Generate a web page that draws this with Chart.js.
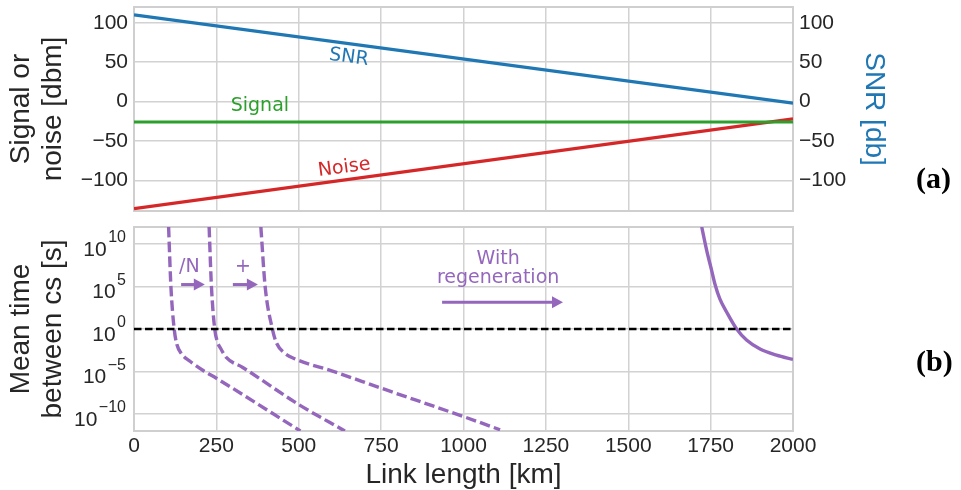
<!DOCTYPE html>
<html><head><meta charset="utf-8">
<script src="https://cdn.jsdelivr.net/npm/chart.js@4.4.0/dist/chart.umd.min.js"></script>
<style>
html,body{margin:0;padding:0;background:#fff;width:961px;height:490px;overflow:hidden;}
#wrapA{position:absolute;left:0;top:0;width:961px;height:220px;}
#wrapB{position:absolute;left:0;top:220px;width:961px;height:270px;}
.panel{position:absolute;font-family:"Liberation Serif",serif;font-weight:bold;font-size:30px;line-height:30px;color:#000;}
</style></head><body>
<div id="wrapA"><canvas id="chartA" width="961" height="220"></canvas></div>
<div id="wrapB"><canvas id="chartB" width="961" height="270"></canvas></div>
<div class="panel" style="left:916px;top:163px;">(a)</div>
<div class="panel" style="left:916px;top:346px;">(b)</div>
<script>
// ---------- data ----------
const xTickValues = [0, 250, 500, 750, 1000, 1250, 1500, 1750, 2000];
const powerTickValues = [-100, -50, 0, 50, 100];
const logTickValues = [1e-10, 1e-5, 1, 1e5, 1e10];

const linkKm = [0, 2000];
const snrDb = [110, -2];
const signalDbm = [-26, -26];
const noiseDbm = [-136, -22];

const thresholdKm = [0, 2000];
const thresholdTime = [1, 1];

const curveAKm = [105, 112, 122, 130, 145, 170, 210, 250, 505];
const curveATime = [1e12, 1e5, 1, 1.6e-2, 1.1e-3, 1.6e-4, 1.3e-5, 1.6e-6, 1e-12];

const curveBKm = [228, 235, 245, 253, 262, 280, 330, 500, 640];
const curveBTime = [1e12, 1e5, 1, 3.2e-2, 6e-3, 4.5e-4, 3e-5, 1.3e-9, 1e-12];

const curveCKm = [385, 398, 420, 432, 455, 490, 600, 750, 1000, 1111];
const curveCTime = [1e12, 1e5, 1, 2.5e-2, 1.7e-3, 2.9e-4, 1.2e-5, 1.1e-7, 5e-11, 1.4e-12];

const regenKm = [1723, 1738, 1753, 1763, 1778, 1799, 1829, 1859, 1900, 1950, 2000];
const regenTime = [1e12, 1.8e9, 8e6, 2e5, 3.5e3, 93, 1, 5e-2, 4.4e-3, 8.5e-4, 2.6e-4];

// ---------- styling ----------
const BLUE = '#1f77b4', GREEN = '#2ca02c', RED = '#d62728', PURPLE = '#9467bd';
const GRID = '#d2d2d2', TEXT = '#262626';
const SANS = "'Liberation Sans', Arial, sans-serif";
const NOTE_FONT = "19px 'DejaVu Sans', sans-serif";
Chart.defaults.font.family = SANS;
Chart.defaults.color = TEXT;

const pts = (xs, ys) => xs.map((x, i) => ({x: x, y: ys[i]}));
const fmtMinus = v => (v < 0 ? '\u2212' + Math.abs(v) : String(v));
const setTicks = vals => (s => { s.ticks = vals.map(v => ({value: v})); });

const framePlugin = {
  id: 'frame',
  beforeDatasetsDraw(chart) {
    const a = chart.chartArea, ctx = chart.ctx;
    ctx.save();
    ctx.strokeStyle = '#cfcfcf';
    ctx.lineWidth = 2;
    ctx.strokeRect(a.left, a.top, a.right - a.left, a.bottom - a.top);
    ctx.restore();
  }
};

const notesPlugin = {
  id: 'notes',
  afterDatasetsDraw(chart, args, opts) {
    const ctx = chart.ctx, xs = chart.scales.x, ys = chart.scales.y;
    (opts.items || []).forEach(n => {
      ctx.save();
      ctx.fillStyle = n.color; ctx.strokeStyle = n.color;
      if (n.text !== undefined) {
        ctx.translate(xs.getPixelForValue(n.x), ys.getPixelForValue(n.y));
        ctx.rotate((n.rot || 0) * Math.PI / 180);
        ctx.font = NOTE_FONT;
        ctx.textAlign = 'center'; ctx.textBaseline = 'middle';
        ctx.fillText(n.text, 0, 0);
      } else {
        const x1 = xs.getPixelForValue(n.x1), x2 = xs.getPixelForValue(n.x2), y = ys.getPixelForValue(n.y);
        const hl = 11, hw = 6;
        ctx.lineWidth = 3;
        ctx.beginPath(); ctx.moveTo(x1, y); ctx.lineTo(x2 - hl + 1, y); ctx.stroke();
        ctx.beginPath(); ctx.moveTo(x2, y); ctx.lineTo(x2 - hl, y - hw); ctx.lineTo(x2 - hl, y + hw); ctx.closePath(); ctx.fill();
      }
      ctx.restore();
    });
  }
};

const logLabelsPlugin = {
  id: 'logLabels',
  afterDraw(chart) {
    const ys = chart.scales.y, ctx = chart.ctx;
    ctx.save();
    ctx.fillStyle = TEXT; ctx.textAlign = 'right'; ctx.textBaseline = 'middle';
    logTickValues.forEach(v => {
      const py = ys.getPixelForValue(v);
      const e = Math.round(Math.log10(v));
      const es = e < 0 ? '\u2212' + (-e) : String(e);
      const right = ys.right - 8;
      ctx.font = '16px ' + SANS;
      const ew = ctx.measureText(es).width;
      ctx.fillText(es, right, py - 6);
      ctx.font = '21px ' + SANS;
      ctx.fillText('10', right - ew - 1.5, py + 6);
    });
    ctx.restore();
  }
};

const gridOpts = {color: GRID, lineWidth: 1.5, drawTicks: false};

// ---------- chart (a) ----------
new Chart(document.getElementById('chartA'), {
  type: 'line',
  data: {
    datasets: [
      {label: 'SNR', data: pts(linkKm, snrDb), yAxisID: 'y2', borderColor: BLUE, borderWidth: 3.2},
      {label: 'Signal', data: pts(linkKm, signalDbm), yAxisID: 'y', borderColor: GREEN, borderWidth: 3.2},
      {label: 'Noise', data: pts(linkKm, noiseDbm), yAxisID: 'y', borderColor: RED, borderWidth: 3.2}
    ]
  },
  options: {
    responsive: false, animation: false, devicePixelRatio: 1,
    layout: {padding: {left: 0, right: 0, top: 7, bottom: 0}},
    elements: {point: {radius: 0}, line: {tension: 0}},
    plugins: {
      legend: {display: false}, tooltip: {enabled: false},
      notes: {items: [
        {text: 'SNR', x: 652, y: 56, color: BLUE, rot: 7.5},
        {text: 'Signal', x: 382, y: -5.5, color: GREEN, rot: 0},
        {text: 'Noise', x: 638, y: -84, color: RED, rot: -7.5}
      ]}
    },
    scales: {
      x: {type: 'linear', min: 0, max: 2000, afterBuildTicks: setTicks(xTickValues),
          ticks: {display: false}, grid: gridOpts, border: {display: false},
          afterFit: s => { s.height = 9; s.paddingLeft = 0; s.paddingRight = 0; }},
      y: {position: 'left', min: -139, max: 120, afterBuildTicks: setTicks(powerTickValues),
          ticks: {padding: 6, font: {size: 21}, color: TEXT, callback: fmtMinus},
          grid: gridOpts, border: {display: false},
          title: {display: true, text: ['Signal or', 'noise [dbm]'], color: TEXT,
                  font: {size: 28, lineHeight: 1.12}, padding: {top: 6, bottom: 0}},
          afterFit: s => { s.width = 134; s.paddingTop = 0; s.paddingBottom = 0; }},
      y2: {position: 'right', min: -139, max: 120, afterBuildTicks: setTicks(powerTickValues),
          ticks: {padding: 6, font: {size: 21}, color: TEXT, callback: fmtMinus},
          grid: {display: false, drawTicks: false}, border: {display: false},
          title: {display: true, text: 'SNR [db]', color: BLUE,
                  font: {size: 28, lineHeight: 1.12}, padding: {top: 72, bottom: 0}},
          afterFit: s => { s.width = 168; s.paddingTop = 0; s.paddingBottom = 0; }}
    }
  },
  plugins: [framePlugin, notesPlugin]
});

// ---------- chart (b) ----------
const dashed = (xs, ys) => ({data: pts(xs, ys), borderColor: PURPLE, borderWidth: 3.4,
  borderDash: [10.5, 4.2], cubicInterpolationMode: 'monotone'});

new Chart(document.getElementById('chartB'), {
  type: 'line',
  data: {
    datasets: [
      {label: 'threshold', data: pts(thresholdKm, thresholdTime), borderColor: '#000', borderWidth: 2.4, borderDash: [7.5, 3.5]},
      Object.assign({label: 'A'}, dashed(curveAKm, curveATime)),
      Object.assign({label: 'B'}, dashed(curveBKm, curveBTime)),
      Object.assign({label: 'C'}, dashed(curveCKm, curveCTime)),
      {label: 'With regeneration', data: pts(regenKm, regenTime), borderColor: PURPLE, borderWidth: 3.4, cubicInterpolationMode: 'monotone'}
    ]
  },
  options: {
    responsive: false, animation: false, devicePixelRatio: 1,
    layout: {padding: {left: 0, right: 168, top: 7, bottom: 0}},
    elements: {point: {radius: 0}, line: {tension: 0}},
    plugins: {
      legend: {display: false}, tooltip: {enabled: false},
      notes: {items: [
        {text: '/N', x: 168, y: 1.7e7, color: PURPLE},
        {text: '+', x: 331, y: 2.2e7, color: PURPLE},
        {x1: 143, x2: 215, y: 1.7e5, color: PURPLE},
        {x1: 300, x2: 376, y: 1.7e5, color: PURPLE},
        {text: 'With', x: 1105, y: 1.5e8, color: PURPLE},
        {text: 'regeneration', x: 1105, y: 1.1e6, color: PURPLE},
        {x1: 935, x2: 1302, y: 1.4e3, color: PURPLE}
      ]}
    },
    scales: {
      x: {type: 'linear', min: 0, max: 2000, afterBuildTicks: setTicks(xTickValues),
          ticks: {padding: 3, font: {size: 21}, color: TEXT, maxRotation: 0, autoSkip: false, callback: v => String(v)},
          grid: gridOpts, border: {display: false},
          title: {display: true, text: 'Link length [km]', color: TEXT,
                  font: {size: 28, lineHeight: 1.0}, padding: {top: 0, bottom: 1}},
          afterFit: s => { s.height = 59; s.paddingLeft = 0; s.paddingRight = 0; }},
      y: {type: 'logarithmic', position: 'left', min: 1e-12, max: 1e12, afterBuildTicks: setTicks(logTickValues),
          ticks: {display: false}, grid: gridOpts, border: {display: false},
          title: {display: true, text: ['Mean time', 'between cs [s]'], color: TEXT,
                  font: {size: 28, lineHeight: 1.12}, padding: {top: 6, bottom: 0}},
          afterFit: s => { s.width = 134; s.paddingTop = 0; s.paddingBottom = 0; }}
    }
  },
  plugins: [framePlugin, notesPlugin, logLabelsPlugin]
});
</script>
</body></html>
